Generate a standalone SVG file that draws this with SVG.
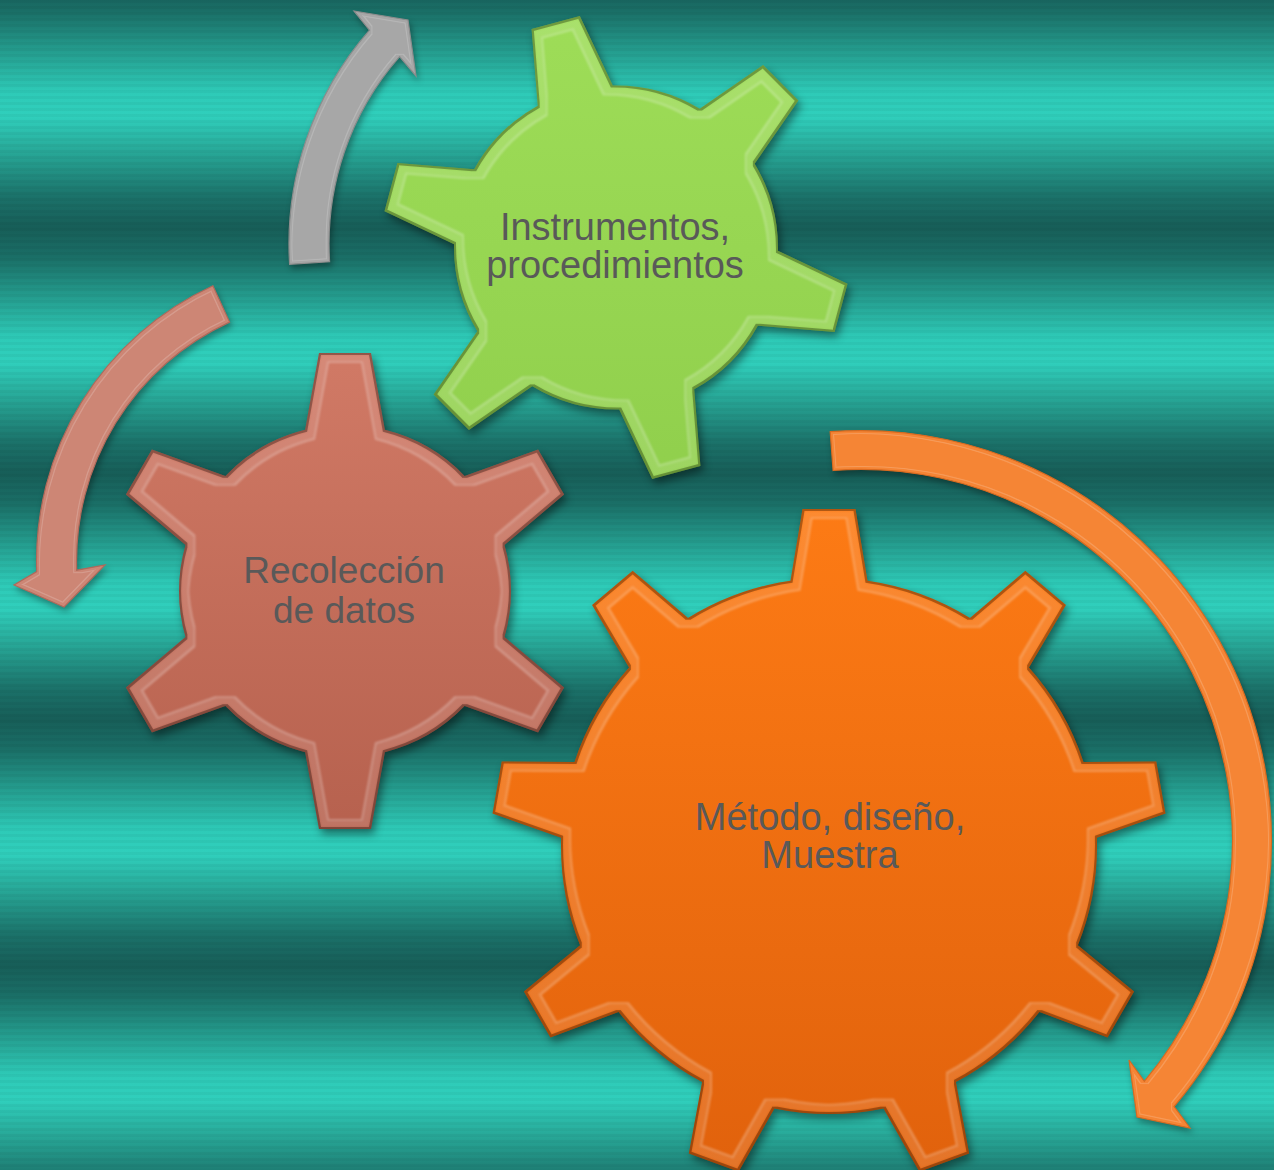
<svg xmlns="http://www.w3.org/2000/svg" xmlns:xlink="http://www.w3.org/1999/xlink" width="1274" height="1170" viewBox="0 0 1274 1170">
  <style>
    .lbl { font-family: "Liberation Sans", Arial, sans-serif; fill: #595959; text-anchor: middle; }
    .arrow { stroke-width: 1.2; stroke-linejoin: miter; }
  </style>
  <defs>
    <linearGradient id="bgGrad" gradientUnits="userSpaceOnUse" x1="0" y1="-19" x2="0" y2="227" spreadMethod="repeat">
      <stop offset="0" stop-color="#175e58"/>
      <stop offset="0.12" stop-color="#1a6e66"/>
      <stop offset="0.3" stop-color="#25a192"/>
      <stop offset="0.45" stop-color="#2ecab7"/>
      <stop offset="0.55" stop-color="#30cfbc"/>
      <stop offset="0.7" stop-color="#27a696"/>
      <stop offset="0.88" stop-color="#1b7169"/>
      <stop offset="1" stop-color="#175e58"/>
    </linearGradient>
    <pattern id="scan" patternUnits="userSpaceOnUse" width="8" height="6">
      <rect x="0" y="0" width="8" height="3" fill="#000" fill-opacity="0.035"/>
    </pattern>
    <linearGradient id="gGreen" x1="0" y1="0" x2="0" y2="1">
      <stop offset="0" stop-color="#9edd58"/>
      <stop offset="1" stop-color="#90cf4c"/>
    </linearGradient>
    <linearGradient id="gSalmon" x1="0" y1="0" x2="0" y2="1">
      <stop offset="0" stop-color="#d17a66"/>
      <stop offset="1" stop-color="#b6614e"/>
    </linearGradient>
    <linearGradient id="gOrange" x1="0" y1="0" x2="0" y2="1">
      <stop offset="0" stop-color="#fd7b15"/>
      <stop offset="1" stop-color="#e0610c"/>
    </linearGradient>
    <filter id="gearFx" x="-8%" y="-8%" width="120%" height="120%" color-interpolation-filters="sRGB">
      <feGaussianBlur in="SourceAlpha" stdDeviation="4" result="sb"/>
      <feOffset in="sb" dx="3" dy="5" result="so"/>
      <feFlood flood-color="#000" flood-opacity="0.45"/>
      <feComposite in2="so" operator="in" result="shadow"/>
      <feMorphology in="SourceAlpha" operator="erode" radius="2" result="e2"/>
      <feMorphology in="SourceAlpha" operator="erode" radius="8" result="e8"/>
      <feMorphology in="SourceAlpha" operator="erode" radius="10" result="e10"/>
      <feComposite in="SourceAlpha" in2="e2" operator="out" result="edge"/>
      <feFlood flood-color="#000" flood-opacity="0.3"/>
      <feComposite in2="edge" operator="in" result="edgeC"/>
      <feComposite in="e2" in2="e8" operator="out" result="rim"/>
      <feGaussianBlur in="rim" stdDeviation="1" result="rimB"/>
      <feFlood flood-color="#fff" flood-opacity="0.12"/>
      <feComposite in2="rimB" operator="in" result="rimC"/>
      <feComposite in="e8" in2="e10" operator="out" result="ln"/>
      <feGaussianBlur in="ln" stdDeviation="0.8" result="lnB"/>
      <feFlood flood-color="#fff" flood-opacity="0.28"/>
      <feComposite in2="lnB" operator="in" result="lnC"/>
      <feMerge>
        <feMergeNode in="shadow"/>
        <feMergeNode in="SourceGraphic"/>
        <feMergeNode in="rimC"/>
        <feMergeNode in="lnC"/>
        <feMergeNode in="edgeC"/>
      </feMerge>
    </filter>
    <filter id="arrowFx" x="-10%" y="-10%" width="125%" height="125%" color-interpolation-filters="sRGB">
      <feGaussianBlur in="SourceAlpha" stdDeviation="3" result="sb"/>
      <feOffset in="sb" dx="2" dy="4" result="so"/>
      <feFlood flood-color="#000" flood-opacity="0.35"/>
      <feComposite in2="so" operator="in" result="shadow"/>
      <feMorphology in="SourceAlpha" operator="erode" radius="3" result="e3"/>
      <feMorphology in="SourceAlpha" operator="erode" radius="4" result="e4"/>
      <feComposite in="e3" in2="e4" operator="out" result="ln"/>
      <feFlood flood-color="#fff" flood-opacity="0.18"/>
      <feComposite in2="ln" operator="in" result="lnC"/>
      <feMerge>
        <feMergeNode in="shadow"/>
        <feMergeNode in="SourceGraphic"/>
        <feMergeNode in="lnC"/>
      </feMerge>
    </filter>
    <polygon id="toothG" points="-40.9,-146 -25,-233 25,-233 40.9,-146"/>
    <polygon id="toothS" points="-41.9,-150 -26,-238 26,-238 41.9,-150"/>
    <polygon id="toothO" points="-40.7,-252 -26.5,-337 26.5,-337 40.7,-252"/>
    <clipPath id="clipG">
      <circle cx="616" cy="247.5" r="162"/>
      <use xlink:href="#toothG" href="#toothG" transform="translate(616 247.5) rotate(-15)"/>
      <use xlink:href="#toothG" href="#toothG" transform="translate(616 247.5) rotate(45)"/>
      <use xlink:href="#toothG" href="#toothG" transform="translate(616 247.5) rotate(105)"/>
      <use xlink:href="#toothG" href="#toothG" transform="translate(616 247.5) rotate(165)"/>
      <use xlink:href="#toothG" href="#toothG" transform="translate(616 247.5) rotate(225)"/>
      <use xlink:href="#toothG" href="#toothG" transform="translate(616 247.5) rotate(285)"/>
    </clipPath>
    <clipPath id="clipS">
      <circle cx="345" cy="591" r="166"/>
      <use xlink:href="#toothS" href="#toothS" transform="translate(345 591)"/>
      <use xlink:href="#toothS" href="#toothS" transform="translate(345 591) rotate(60)"/>
      <use xlink:href="#toothS" href="#toothS" transform="translate(345 591) rotate(120)"/>
      <use xlink:href="#toothS" href="#toothS" transform="translate(345 591) rotate(180)"/>
      <use xlink:href="#toothS" href="#toothS" transform="translate(345 591) rotate(240)"/>
      <use xlink:href="#toothS" href="#toothS" transform="translate(345 591) rotate(300)"/>
    </clipPath>
    <clipPath id="clipO">
      <circle cx="829" cy="846" r="268"/>
      <use xlink:href="#toothO" href="#toothO" transform="translate(829 846)"/>
      <use xlink:href="#toothO" href="#toothO" transform="translate(829 846) rotate(40)"/>
      <use xlink:href="#toothO" href="#toothO" transform="translate(829 846) rotate(80)"/>
      <use xlink:href="#toothO" href="#toothO" transform="translate(829 846) rotate(120)"/>
      <use xlink:href="#toothO" href="#toothO" transform="translate(829 846) rotate(160)"/>
      <use xlink:href="#toothO" href="#toothO" transform="translate(829 846) rotate(200)"/>
      <use xlink:href="#toothO" href="#toothO" transform="translate(829 846) rotate(240)"/>
      <use xlink:href="#toothO" href="#toothO" transform="translate(829 846) rotate(280)"/>
      <use xlink:href="#toothO" href="#toothO" transform="translate(829 846) rotate(320)"/>
    </clipPath>
  </defs>

  <g id="background">
    <rect x="0" y="0" width="1274" height="1170" fill="url(#bgGrad)"/>
    <rect x="0" y="0" width="1274" height="1170" fill="url(#scan)"/>
  </g>

  <g id="connectors">
    <path id="arrow-gray" class="arrow" filter="url(#arrowFx)" fill="#a7a7a7" stroke="#8c8c8c"
      d="M 289.6 264.3 A 324 324 0 0 1 369.5 30.2 L 354 11 L 408 20 L 416 76 L 399.6 56.6 A 284 284 0 0 0 329.6 261.8 Z"/>
    <path id="arrow-salmon" class="arrow" filter="url(#arrowFx)" fill="#cd8675" stroke="#b0695a"
      d="M 212.9 285.7 A 303 303 0 0 0 36.7 571.6 L 14 585 L 64 607 L 105 565 L 76.7 570.2 A 263 263 0 0 1 229.6 322.1 Z"/>
    <path id="arrow-orange" class="arrow" filter="url(#arrowFx)" fill="#f58535" stroke="#d86a20"
      d="M 830.2 431.7 A 410.5 410.5 0 0 1 1174.1 1106.5 L 1190 1128 L 1137 1117 L 1129 1060 L 1144.3 1081.3 A 371.5 371.5 0 0 0 833.1 470.5 Z"/>
  </g>

  <g id="gear-instrumentos">
    <g filter="url(#gearFx)">
      <g clip-path="url(#clipG)">
        <rect x="375" y="8" width="482" height="482" fill="url(#gGreen)"/>
      </g>
    </g>
    <text class="lbl" font-size="38" x="615" y="240">Instrumentos,</text>
    <text class="lbl" font-size="38" x="615" y="278">procedimientos</text>
  </g>

  <g id="gear-recoleccion">
    <g filter="url(#gearFx)">
      <g clip-path="url(#clipS)">
        <rect x="100" y="345" width="490" height="492" fill="url(#gSalmon)"/>
      </g>
    </g>
    <text class="lbl" font-size="37" x="344" y="583">Recolección</text>
    <text class="lbl" font-size="37" x="344" y="623">de datos</text>
  </g>

  <g id="gear-metodo">
    <g filter="url(#gearFx)">
      <g clip-path="url(#clipO)">
        <rect x="485" y="502" width="688" height="688" fill="url(#gOrange)"/>
      </g>
    </g>
    <text class="lbl" font-size="38" x="830" y="830">Método, diseño,</text>
    <text class="lbl" font-size="38" x="830" y="868">Muestra</text>
  </g>
</svg>
